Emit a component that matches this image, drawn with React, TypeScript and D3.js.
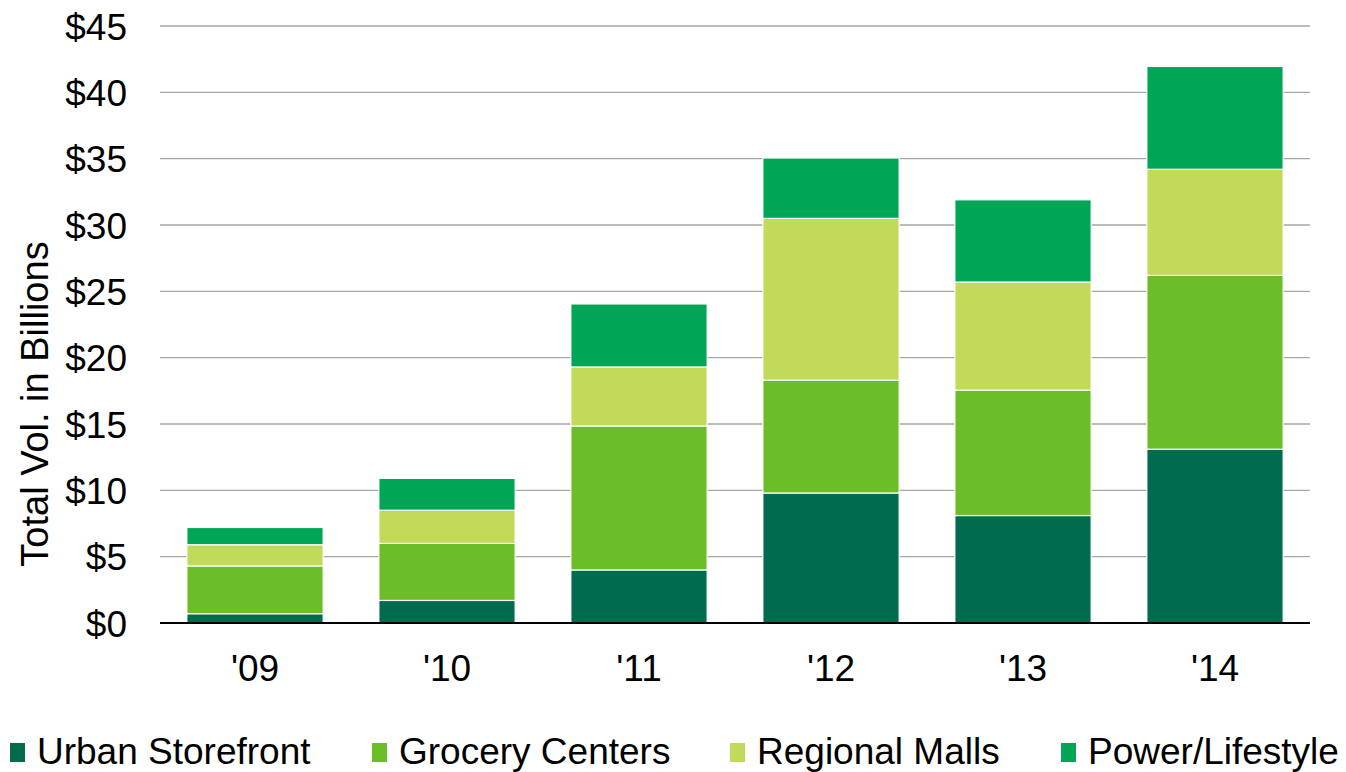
import React from "react";
import * as d3 from "d3";

const years = ["'09", "'10", "'11", "'12", "'13", "'14"];
const urbanStorefront = [0.7, 1.7, 4.0, 9.8, 8.1, 13.1];
const groceryCenters = [3.6, 4.3, 10.85, 8.5, 9.45, 13.1];
const regionalMalls = [1.6, 2.5, 4.45, 12.2, 8.15, 8.0];
const powerLifestyle = [1.3, 2.4, 4.75, 4.55, 6.2, 7.75];
const seriesNames = ["Urban Storefront", "Grocery Centers", "Regional Malls", "Power/Lifestyle"];
const seriesColors = ["#006b4f", "#6bbe28", "#c1da5a", "#00a656"];
const yTicks = [0, 5, 10, 15, 20, 25, 30, 35, 40, 45];

export default function App() {
  const width = 1346, height = 772;
  const rows = years.map((y, i) => ({
    year: y,
    s0: urbanStorefront[i],
    s1: groceryCenters[i],
    s2: regionalMalls[i],
    s3: powerLifestyle[i],
  }));
  const stack = d3.stack<any>().keys(["s0", "s1", "s2", "s3"]);
  const layers = stack(rows);
  const x = d3.scaleBand().domain(years).range([159, 1311]).paddingInner(0.29).paddingOuter(0.145);
  const y = d3.scaleLinear().domain([0, 45]).range([623, 26]);
  const font = "Liberation Sans, Arial, sans-serif";
  const legendX = [10, 372, 730, 1061];

  return (
    <svg width={width} height={height} style={{ position: "absolute", left: 0, top: 0 }} fontFamily={font}>
      <rect width={width} height={height} fill="#fff" />
      {yTicks.map((t) => (
        <g key={t}>
          {t > 0 && (
            <line x1={160} x2={1310} y1={y(t)} y2={y(t)} stroke="#a6a6a6" strokeWidth={1.3} />
          )}
          <text x={127} y={y(t) + 1} textAnchor="end" dominantBaseline="central" fontSize={37} fill="#000">
            {"$" + t}
          </text>
        </g>
      ))}
      {layers.map((layer, li) => (
        <g key={li}>
          {layer.map((d, i) => (
            <rect
              key={i}
              x={x(years[i])!}
              width={x.bandwidth()}
              y={y(d[1])}
              height={y(d[0]) - y(d[1])}
              fill={seriesColors[li]}
              stroke="#fff"
              strokeWidth={1.2}
            />
          ))}
        </g>
      ))}
      <line x1={160} x2={1310} y1={y(0)} y2={y(0)} stroke="#000" strokeWidth={2} />
      {years.map((yr) => (
        <text key={yr} x={x(yr)! + x.bandwidth() / 2} y={668} textAnchor="middle" dominantBaseline="central" fontSize={37}>
          {yr}
        </text>
      ))}
      <text
        transform={`translate(35,404) rotate(-90)`}
        textAnchor="middle"
        dominantBaseline="central"
        fontSize={38}
      >
        Total Vol. in Billions
      </text>
      {seriesNames.map((n, i) => (
        <g key={n}>
          <rect x={legendX[i]} y={743} width={15} height={19} fill={seriesColors[i]} />
          <text x={legendX[i] + 27} y={764} fontSize={37}>
            {n}
          </text>
        </g>
      ))}
    </svg>
  );
}
